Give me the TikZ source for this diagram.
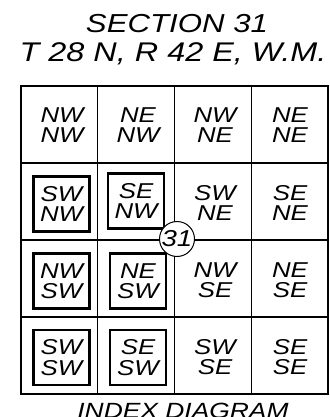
\documentclass[tikz,border=0pt]{standalone}
\usepackage{fontspec}
\setmainfont{Liberation Sans}[ItalicFeatures={FakeStretch=1.2}]
\tikzset{
  tract/.style={align=center, inner sep=0pt, font=\itshape\fontsize{21.5}{20.5}\selectfont},
  owned/.style={tract, draw, line width=2.8pt, minimum width=56pt, minimum height=55pt}
}
\begin{document}
\begin{tikzpicture}[x=1pt, y=-1pt]
\useasboundingbox (0,0) rectangle (329,417);
% heading
\node[anchor=base, inner sep=0pt, font=\itshape\fontsize{26}{28}\selectfont] (sec) at (177,33) {SECTION 31};
\node[anchor=base, inner sep=0pt, font=\itshape\fontsize{27}{28}\selectfont] (twp) at (173,62) {T 28 N, R 42 E, W.M.};
% section grid
\draw[line width=1.3pt] (21,86) rectangle (328,394);
\foreach \k in {1,2,3} {
  \draw[line width=1.3pt] (21+76.75*\k,86) -- (21+76.75*\k,394);
  \draw[line width=1.3pt] (21,86+77*\k) -- (328,86+77*\k);
}
% quarter-quarters
\node[tract] (nwnw) at (62,125) {NW\\NW};
\node[tract] (nenw) at (138,125) {NE\\NW};
\node[tract] (nwne) at (215,125) {NW\\NE};
\node[tract] (nene) at (290,125) {NE\\NE};
\node[owned] (swnw) at (61.5,204) {SW\\NW};
\node[owned] (senw) at (136,201) {SE\\NW};
\node[tract] (swne) at (215,203) {SW\\NE};
\node[tract] (sene) at (290,203) {SE\\NE};
\node[owned] (nwsw) at (61.5,281) {NW\\SW};
\node[owned] (nesw) at (138,281) {NE\\SW};
\node[tract] (nwse) at (215,280) {NW\\SE};
\node[tract] (nese) at (290,280) {NE\\SE};
\node[owned] (swsw) at (61.5,357.5) {SW\\SW};
\node[owned] (sesw) at (138,357.5) {SE\\SW};
\node[tract] (swse) at (215,357) {SW\\SE};
\node[tract] (sese) at (290,357) {SE\\SE};
% section number
\node[circle, draw, line width=1pt, fill=white, minimum size=35pt, inner sep=0pt,
  font=\itshape\fontsize{23}{23}\selectfont] (num) at (177,239) {31};
\node[anchor=base, inner sep=0pt, font=\itshape\fontsize{22}{24}\selectfont] (idx) at (183,418.5) {INDEX DIAGRAM};
\end{tikzpicture}
\end{document}
